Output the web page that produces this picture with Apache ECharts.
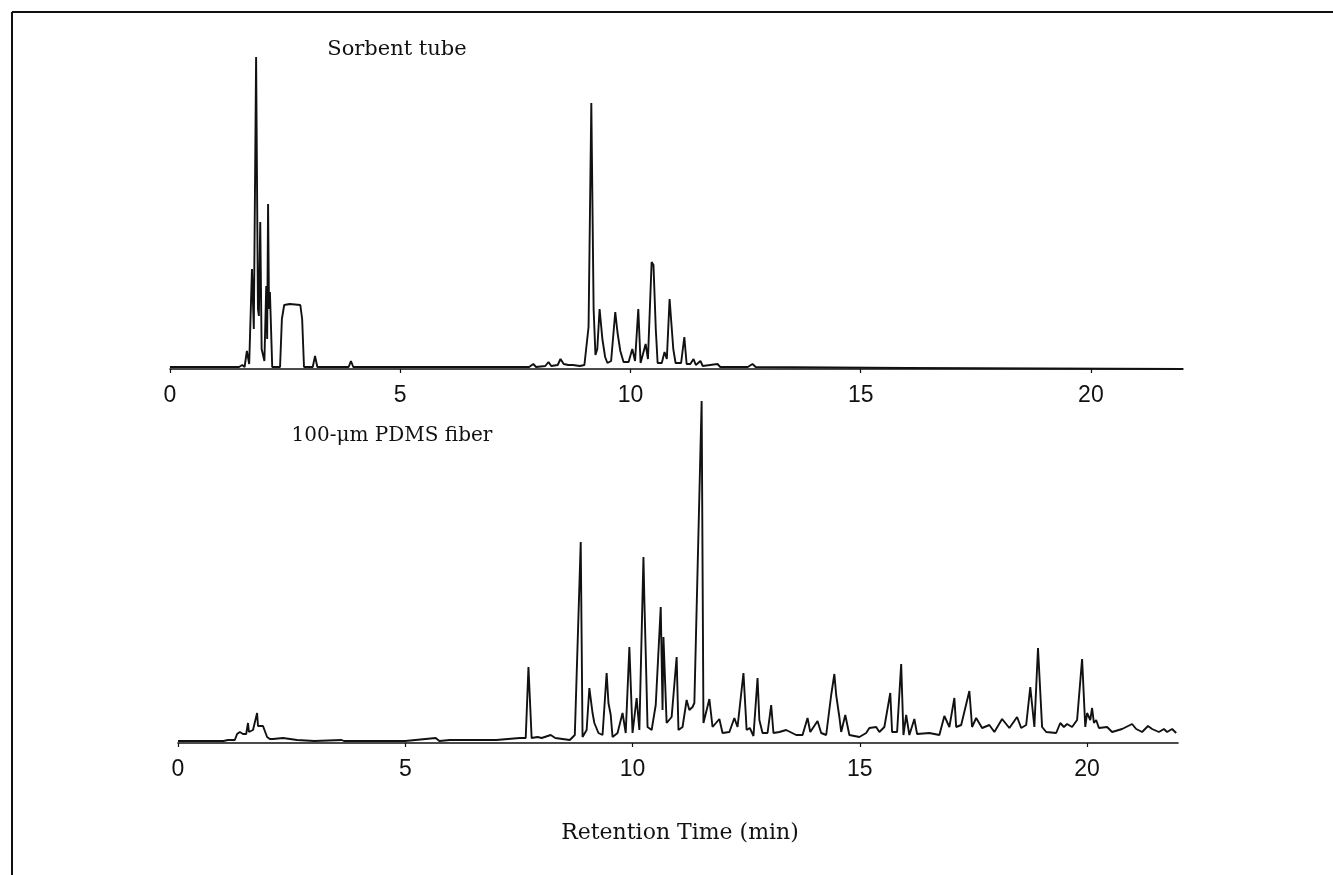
<!DOCTYPE html>
<html>
<head>
<meta charset="utf-8">
<script src="https://cdn.jsdelivr.net/npm/echarts@6/dist/echarts.min.js"></script>
<style>
html,body{margin:0;padding:0;background:#fff;}
#chart{width:1333px;height:875px;}
</style>
</head>
<body>
<div id="chart"></div>
<script>
// Retention time (min), detector response (arbitrary units)
var tickLabels = [0, 5, 10, 15, 20];
var sorbentTube = [
  [0, 2], [1.5, 2], [1.57, 4], [1.62, 2], [1.67, 18], [1.72, 5], [1.78, 100], [1.82, 40],
  [1.87, 312], [1.91, 60], [1.93, 53], [1.96, 147], [1.99, 20], [2.02, 20], [2.05, 8],
  [2.09, 83], [2.11, 30], [2.13, 165], [2.15, 60], [2.17, 77], [2.22, 2], [2.39, 2],
  [2.43, 50], [2.48, 64], [2.6, 65], [2.83, 64], [2.87, 50], [2.91, 2], [3.1, 2], [3.15, 13],
  [3.2, 2], [3.48, 2], [3.52, 3], [3.55, 2], [3.88, 2], [3.93, 8], [3.98, 2], [5.0, 2],
  [6.5, 2], [7.8, 2], [7.89, 5], [7.95, 2], [8.15, 3], [8.22, 7], [8.28, 3], [8.42, 4],
  [8.48, 10], [8.55, 5], [8.65, 4], [8.75, 4], [8.9, 3], [9.0, 4], [9.09, 42], [9.15, 266],
  [9.2, 60], [9.24, 14], [9.28, 20], [9.33, 60], [9.39, 30], [9.45, 12], [9.5, 6], [9.58, 8],
  [9.67, 57], [9.72, 36], [9.78, 18], [9.85, 7], [9.96, 7], [10.04, 20], [10.1, 8],
  [10.17, 60], [10.22, 6], [10.26, 6], [10.33, 25], [10.38, 10], [10.46, 107], [10.5, 104],
  [10.55, 40], [10.59, 6], [10.68, 6], [10.74, 17], [10.79, 10], [10.85, 70], [10.89, 45],
  [10.93, 20], [10.98, 6], [11.1, 6], [11.17, 32], [11.22, 5], [11.3, 5], [11.37, 10],
  [11.42, 4], [11.52, 8], [11.57, 3], [11.89, 5], [11.95, 2], [12.55, 2], [12.65, 5],
  [12.72, 2], [16, 1], [22, 0]
];
var pdmsFiber = [
  [0, 2], [1.0, 2], [1.1, 3], [1.25, 3], [1.3, 9], [1.36, 11], [1.43, 9], [1.5, 9],
  [1.54, 20], [1.56, 11], [1.65, 13], [1.74, 30], [1.76, 17], [1.87, 17], [1.96, 6],
  [2.02, 4], [2.09, 4], [2.31, 5], [2.62, 3], [3.0, 2], [3.6, 3], [3.65, 2], [5.0, 2],
  [5.67, 5], [5.75, 2], [5.98, 3], [7.0, 3], [7.52, 5], [7.65, 5], [7.71, 76], [7.78, 5],
  [7.91, 6], [8.0, 5], [8.2, 8], [8.3, 5], [8.62, 3], [8.73, 8], [8.86, 201], [8.9, 6],
  [8.99, 13], [9.05, 55], [9.12, 30], [9.16, 20], [9.25, 10], [9.34, 8], [9.43, 70],
  [9.47, 40], [9.52, 28], [9.56, 6], [9.67, 10], [9.78, 30], [9.85, 10], [9.93, 96],
  [10.0, 10], [10.09, 45], [10.15, 13], [10.24, 186], [10.26, 143], [10.29, 90], [10.33, 16],
  [10.42, 13], [10.51, 38], [10.62, 136], [10.66, 33], [10.68, 106], [10.75, 20], [10.86, 26],
  [10.97, 86], [11.01, 13], [11.1, 16], [11.19, 43], [11.25, 33], [11.32, 36], [11.36, 40],
  [11.52, 342], [11.56, 20], [11.69, 44], [11.76, 16], [11.91, 24], [11.98, 10], [12.13, 11],
  [12.24, 25], [12.31, 16], [12.44, 70], [12.51, 13], [12.58, 15], [12.66, 7], [12.75, 65],
  [12.79, 23], [12.86, 10], [12.97, 10], [13.05, 38], [13.1, 10], [13.23, 11], [13.38, 13],
  [13.6, 8], [13.74, 8], [13.85, 25], [13.91, 11], [14.07, 22], [14.15, 10], [14.26, 8],
  [14.37, 48], [14.44, 69], [14.48, 48], [14.55, 26], [14.59, 11], [14.68, 28], [14.77, 8],
  [14.99, 6], [15.14, 10], [15.21, 15], [15.36, 16], [15.43, 11], [15.54, 16], [15.67, 50],
  [15.71, 11], [15.82, 11], [15.91, 79], [15.96, 8], [16.02, 28], [16.09, 8], [16.2, 24],
  [16.26, 9], [16.53, 10], [16.75, 8], [16.86, 27], [16.97, 16], [17.08, 45], [17.12, 16],
  [17.23, 18], [17.41, 52], [17.47, 16], [17.56, 25], [17.69, 15], [17.85, 18], [17.96, 11],
  [18.13, 24], [18.29, 15], [18.46, 26], [18.55, 15], [18.66, 18], [18.75, 56], [18.84, 16],
  [18.92, 95], [19.01, 16], [19.1, 11], [19.32, 10], [19.41, 20], [19.49, 16], [19.56, 19],
  [19.67, 16], [19.78, 23], [19.89, 84], [19.96, 16], [20.0, 30], [20.07, 23], [20.11, 35],
  [20.15, 20], [20.2, 23], [20.26, 15], [20.44, 16], [20.55, 11], [20.77, 14], [20.99, 19],
  [21.08, 14], [21.21, 11], [21.34, 17], [21.43, 14], [21.58, 11], [21.69, 14], [21.76, 11],
  [21.87, 14], [21.96, 10]
];
var topLabel = 'Sorbent tube';
var bottomLabel = '100-\u03bcm PDMS fiber';
var xTitle = 'Retention Time (min)';

var ink = '#111';
function xAxisCfg(gi) {
  return {
    type: 'value', gridIndex: gi, min: 0, max: 22, interval: 5,
    axisLine: {show: true, onZero: false, lineStyle: {color: ink, width: 1.6}},
    axisTick: {show: true, length: 4, customValues: tickLabels, lineStyle: {color: ink, width: 1.2}},
    axisLabel: {show: true, customValues: tickLabels, margin: 15, color: ink,
      fontFamily: 'Liberation Sans, Arial, sans-serif', fontSize: 23},
    splitLine: {show: false}
  };
}
function yAxisCfg(gi, maxv) {
  return {type: 'value', gridIndex: gi, min: 0, max: maxv, show: false,
    splitLine: {show: false}};
}
var chart = echarts.init(document.getElementById('chart'), null, {renderer: 'canvas'});
chart.setOption({
  backgroundColor: '#fff',
  animation: false,
  grid: [
    {left: 170, width: 1013, top: 49, height: 320},
    {left: 178, width: 1000, top: 393, height: 350}
  ],
  xAxis: [xAxisCfg(0), xAxisCfg(1)],
  yAxis: [yAxisCfg(0, 320), yAxisCfg(1, 350)],
  series: [
    {type: 'line', xAxisIndex: 0, yAxisIndex: 0, data: sorbentTube, showSymbol: false,
      lineStyle: {color: ink, width: 1.9}, silent: true},
    {type: 'line', xAxisIndex: 1, yAxisIndex: 1, data: pdmsFiber, showSymbol: false,
      lineStyle: {color: ink, width: 1.9}, silent: true}
  ],
  graphic: [
    {type: 'line', shape: {x1: 12, y1: 12, x2: 1333, y2: 12}, style: {stroke: ink, lineWidth: 2}},
    {type: 'line', shape: {x1: 12, y1: 12, x2: 12, y2: 875}, style: {stroke: ink, lineWidth: 2}},
    {type: 'text', x: 397, y: 50, style: {text: topLabel, fill: ink, align: 'center',
      verticalAlign: 'middle', font: '21px "DejaVu Serif", serif'}},
    {type: 'text', x: 392, y: 436, style: {text: bottomLabel, fill: ink, align: 'center',
      verticalAlign: 'middle', font: '20px "DejaVu Serif", serif'}},
    {type: 'text', x: 680, y: 833, style: {text: xTitle, fill: ink, align: 'center',
      verticalAlign: 'middle', font: '22px "DejaVu Serif", serif'}}
  ]
});
</script>
</body>
</html>
